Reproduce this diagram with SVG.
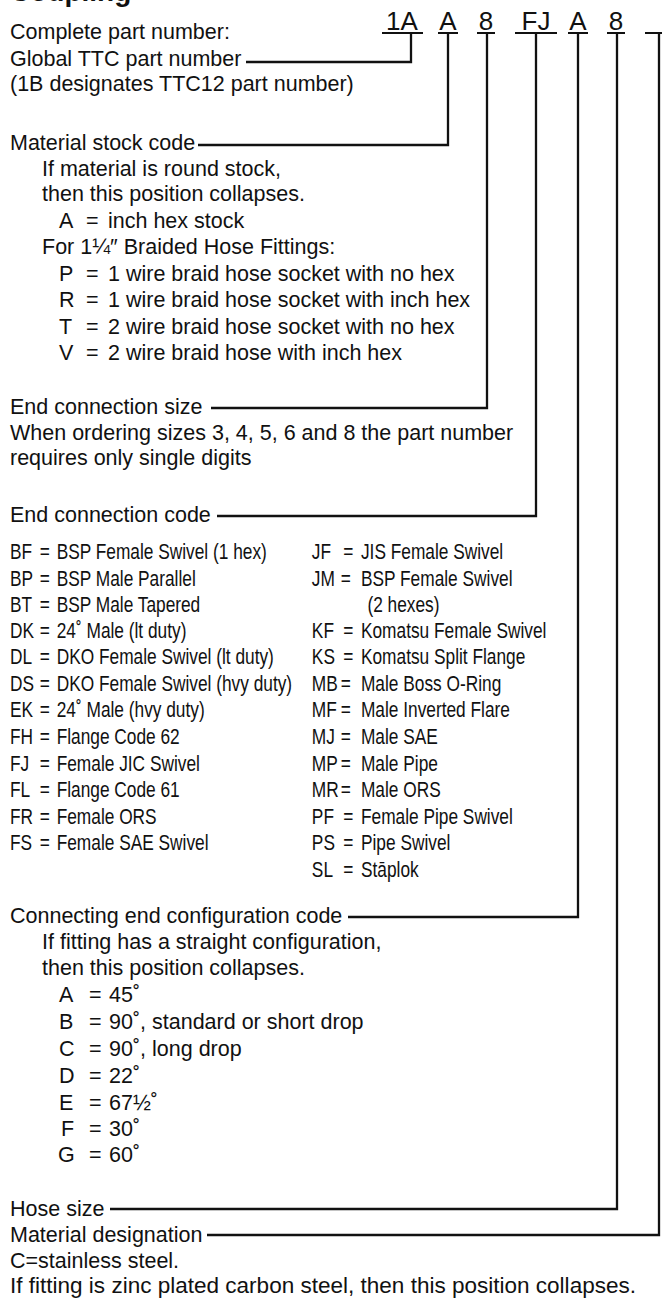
<svg xmlns="http://www.w3.org/2000/svg" width="666" height="1298" viewBox="0 0 666 1298">
<style>
text { font-family: "Liberation Sans", Arial, Helvetica, sans-serif; font-size: 21.5px; fill: #111; }
.hd { font-weight: bold; font-size: 28px; }
.pn { font-size: 26px; text-anchor: middle; }
.ul { stroke: #111; stroke-width: 2; }
.ln { fill: none; stroke: #111; stroke-width: 2.3; }
</style>
<rect width="666" height="1298" fill="#fff"/>

<g id="heading">
<text class="hd" x="10" y="1">Coupling</text>
<text x="10" y="39">Complete part number:</text>
</g>

<g id="part-number">
<text class="pn" x="402" y="30">1A</text>
<text class="pn" x="448" y="30">A</text>
<text class="pn" x="486" y="30">8</text>
<text class="pn" x="536" y="30">FJ</text>
<text class="pn" x="578" y="30">A</text>
<text class="pn" x="616" y="30">8</text>
<line class="ul" x1="382" y1="33" x2="423" y2="33"/>
<line class="ul" x1="438" y1="33" x2="458" y2="33"/>
<line class="ul" x1="477" y1="33" x2="495" y2="33"/>
<line class="ul" x1="515" y1="33" x2="557" y2="33"/>
<line class="ul" x1="568" y1="33" x2="588" y2="33"/>
<line class="ul" x1="607" y1="33" x2="625" y2="33"/>
<line class="ul" x1="645" y1="33" x2="662" y2="33"/>
</g>

<g id="connectors">
<path class="ln" d="M411,33 V62 H246"/>
<path class="ln" d="M448,33 V145 H198"/>
<path class="ln" d="M487,33 V408 H211"/>
<path class="ln" d="M536,33 V516 H217"/>
<path class="ln" d="M578,33 V917 H348"/>
<path class="ln" d="M617,33 V1209 H110"/>
<path class="ln" d="M659,33 V1235 H207"/>
</g>

<g id="global-ttc">
<text x="10" y="66">Global TTC part number</text>
<text x="10" y="91">(1B designates TTC12 part number)</text>
</g>

<g id="material-stock">
<text x="10" y="150">Material stock code</text>
<text x="42" y="176">If material is round stock,</text>
<text x="42" y="201">then this position collapses.</text>
<text y="228"><tspan x="59">A</tspan><tspan x="86">=</tspan><tspan x="108">inch hex stock</tspan></text>
<text x="42" y="254">For 1¼″ Braided Hose Fittings:</text>
<text y="281"><tspan x="59">P</tspan><tspan x="86">=</tspan><tspan x="108">1 wire braid hose socket with no hex</tspan></text>
<text y="307"><tspan x="59">R</tspan><tspan x="86">=</tspan><tspan x="108">1 wire braid hose socket with inch hex</tspan></text>
<text y="334"><tspan x="59">T</tspan><tspan x="86">=</tspan><tspan x="108">2 wire braid hose socket with no hex</tspan></text>
<text y="360"><tspan x="59">V</tspan><tspan x="86">=</tspan><tspan x="108">2 wire braid hose with inch hex</tspan></text>
</g>

<g id="end-connection-size">
<text x="10" y="414">End connection size</text>
<text x="10" y="440">When ordering sizes 3, 4, 5, 6 and 8 the part number</text>
<text x="10" y="465">requires only single digits</text>
</g>

<g id="end-connection-code">
<text x="10" y="522">End connection code</text>
<g transform="translate(10 0) scale(0.805 1)">
<text y="559"><tspan x="0">BF</tspan><tspan x="37">=</tspan><tspan x="58">BSP Female Swivel (1 hex)</tspan></text>
<text y="586"><tspan x="0">BP</tspan><tspan x="37">=</tspan><tspan x="58">BSP Male Parallel</tspan></text>
<text y="612"><tspan x="0">BT</tspan><tspan x="37">=</tspan><tspan x="58">BSP Male Tapered</tspan></text>
<text y="638"><tspan x="0">DK</tspan><tspan x="37">=</tspan><tspan x="58">24˚ Male (lt duty)</tspan></text>
<text y="664"><tspan x="0">DL</tspan><tspan x="37">=</tspan><tspan x="58">DKO Female Swivel (lt duty)</tspan></text>
<text y="691"><tspan x="0">DS</tspan><tspan x="37">=</tspan><tspan x="58">DKO Female Swivel (hvy duty)</tspan></text>
<text y="717"><tspan x="0">EK</tspan><tspan x="37">=</tspan><tspan x="58">24˚ Male (hvy duty)</tspan></text>
<text y="744"><tspan x="0">FH</tspan><tspan x="37">=</tspan><tspan x="58">Flange Code 62</tspan></text>
<text y="771"><tspan x="0">FJ</tspan><tspan x="37">=</tspan><tspan x="58">Female JIC Swivel</tspan></text>
<text y="797"><tspan x="0">FL</tspan><tspan x="37">=</tspan><tspan x="58">Flange Code 61</tspan></text>
<text y="824"><tspan x="0">FR</tspan><tspan x="37">=</tspan><tspan x="58">Female ORS</tspan></text>
<text y="850"><tspan x="0">FS</tspan><tspan x="37">=</tspan><tspan x="58">Female SAE Swivel</tspan></text>

<text y="559"><tspan x="375">JF</tspan><tspan x="414">=</tspan><tspan x="436">JIS Female Swivel</tspan></text>
<text y="586"><tspan x="375">JM</tspan><tspan x="411">=</tspan><tspan x="436">BSP Female Swivel</tspan></text>
<text y="612"><tspan x="444">(2 hexes)</tspan></text>
<text y="638"><tspan x="375">KF</tspan><tspan x="414">=</tspan><tspan x="436">Komatsu Female Swivel</tspan></text>
<text y="664"><tspan x="375">KS</tspan><tspan x="414">=</tspan><tspan x="436">Komatsu Split Flange</tspan></text>
<text y="691"><tspan x="375">MB</tspan><tspan x="411">=</tspan><tspan x="436">Male Boss O-Ring</tspan></text>
<text y="717"><tspan x="375">MF</tspan><tspan x="411">=</tspan><tspan x="436">Male Inverted Flare</tspan></text>
<text y="744"><tspan x="375">MJ</tspan><tspan x="411">=</tspan><tspan x="436">Male SAE</tspan></text>
<text y="771"><tspan x="375">MP</tspan><tspan x="411">=</tspan><tspan x="436">Male Pipe</tspan></text>
<text y="797"><tspan x="375">MR</tspan><tspan x="411">=</tspan><tspan x="436">Male ORS</tspan></text>
<text y="824"><tspan x="375">PF</tspan><tspan x="414">=</tspan><tspan x="436">Female Pipe Swivel</tspan></text>
<text y="850"><tspan x="375">PS</tspan><tspan x="414">=</tspan><tspan x="436">Pipe Swivel</tspan></text>
<text y="877"><tspan x="375">SL</tspan><tspan x="414">=</tspan><tspan x="436">Stāplok</tspan></text>
</g>
</g>

<g id="end-configuration">
<text x="10" y="923">Connecting end configuration code</text>
<text x="42" y="949">If fitting has a straight configuration,</text>
<text x="42" y="975">then this position collapses.</text>
<text y="1002"><tspan x="59">A</tspan><tspan x="89">=</tspan><tspan x="109">45˚</tspan></text>
<text y="1029"><tspan x="59">B</tspan><tspan x="89">=</tspan><tspan x="109">90˚, standard or short drop</tspan></text>
<text y="1056"><tspan x="59">C</tspan><tspan x="89">=</tspan><tspan x="109">90˚, long drop</tspan></text>
<text y="1083"><tspan x="59">D</tspan><tspan x="89">=</tspan><tspan x="109">22˚</tspan></text>
<text y="1110"><tspan x="59">E</tspan><tspan x="89">=</tspan><tspan x="109">67½˚</tspan></text>
<text y="1136"><tspan x="61">F</tspan><tspan x="89">=</tspan><tspan x="109">30˚</tspan></text>
<text y="1162"><tspan x="58">G</tspan><tspan x="89">=</tspan><tspan x="109">60˚</tspan></text>
</g>

<g id="hose-size">
<text x="10" y="1216">Hose size</text>
</g>

<g id="material-designation">
<text x="10" y="1242">Material designation</text>
<text x="10" y="1268">C=stainless steel.</text>
<text x="10" y="1293" textLength="626" lengthAdjust="spacingAndGlyphs">If fitting is zinc plated carbon steel, then this position collapses.</text>
</g>
</svg>
